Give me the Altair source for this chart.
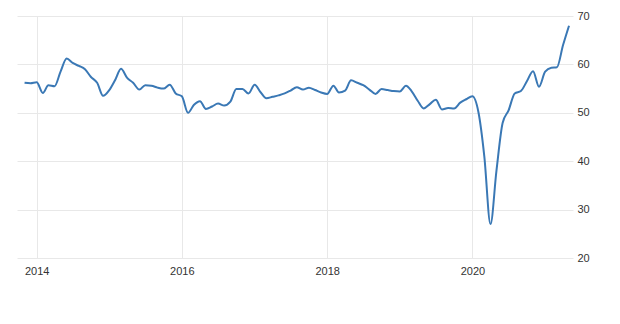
import altair as alt
import pandas as pd

start_month = "2013-11-01"
values = [
    56.2, 56.1,
    56.3, 54.1, 55.7, 55.5, 58.5, 61.2, 60.3, 59.7, 59.0, 57.4, 56.2, 53.5,
    54.7, 56.9, 59.1, 57.2, 56.2, 54.8, 55.7, 55.6, 55.2, 55.0, 55.8, 54.0,
    53.4, 50.0, 51.6, 52.4, 50.8, 51.3, 51.9, 51.5, 52.3, 54.9, 54.9, 54.0,
    55.8, 54.2, 53.0, 53.3, 53.6, 54.0, 54.6, 55.3, 54.8, 55.2, 54.7, 54.2,
    53.9, 55.6, 54.2, 54.6, 56.7, 56.2, 55.7, 54.8, 53.9, 54.9, 54.7, 54.5,
    54.4, 55.6, 54.5, 52.5, 50.9, 51.8, 52.7, 50.7, 51.0, 50.9, 52.1, 52.8,
    53.4, 50.0, 41.0, 27.0, 38.0, 47.9, 50.5, 54.0, 54.5, 56.5, 58.6, 55.4,
    58.5, 59.3, 59.4, 64.0, 68.0,
]
dates = pd.date_range(start_month, periods=len(values), freq="MS")
tick_years = ["2014-01-01", "2016-01-01", "2018-01-01", "2020-01-01"]
y_ticks = [20, 30, 40, 50, 60, 70]

df = pd.DataFrame({"date": dates, "value": values})

font = "Liberation Sans Narrow, Liberation Sans, Arial, sans-serif"

chart = alt.Chart(df).mark_line(
    color="#3a78b5", strokeWidth=2, interpolate="monotone"
).encode(
    x=alt.X(
        "date:T",
        scale=alt.Scale(domain=["2013-09-24", "2021-05-21"]),
        axis=alt.Axis(
            values=[pd.Timestamp(t).isoformat() for t in tick_years],
            format="%Y",
            title=None,
            grid=True,
            gridColor="#e8e8e8",
            gridWidth=1,
            ticks=False,
            domain=False,
            labelPadding=7,
            labelFont=font,
            labelFontSize=11,
            labelColor="#333333",
        ),
    ),
    y=alt.Y(
        "value:Q",
        scale=alt.Scale(domain=[20, 70], nice=False, zero=False),
        axis=alt.Axis(
            orient="right",
            values=y_ticks,
            title=None,
            grid=True,
            gridColor="#e8e8e8",
            gridWidth=1,
            ticks=False,
            domain=False,
            labelPadding=4,
            labelFont=font,
            labelFontSize=11,
            labelColor="#333333",
        ),
    ),
).properties(
    width=556,
    height=242,
    autosize="none",
    padding={"left": 17, "top": 16, "right": 47, "bottom": 66},
    background="white",
).configure_view(stroke=None)

chart.save("out.html", embed_options={"renderer": "svg", "actions": False})
